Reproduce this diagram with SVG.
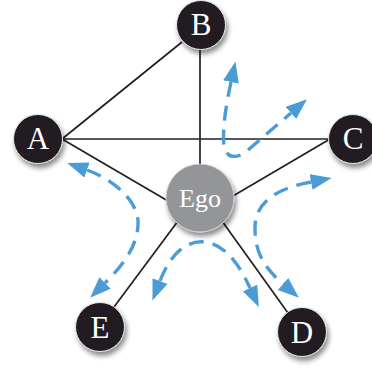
<svg xmlns="http://www.w3.org/2000/svg" width="372" height="369" viewBox="0 0 372 369">
<style>
.edge{stroke:#231f20;stroke-width:1.7;fill:none}
.flow{stroke:#4b9cd6;stroke-width:3.4;fill:none;stroke-dasharray:15 9;marker-start:url(#ah);marker-end:url(#ah)}
.node{fill:#231f20;stroke:#e6e6e6;stroke-width:1;filter:url(#sh)}
.ego{fill:#939598;stroke:#d0d1d3;stroke-width:1;filter:url(#sh)}
.lbl{font-family:"Liberation Serif","Times New Roman",serif;fill:#ffffff;text-anchor:middle;font-size:31px}
.elbl{font-size:26px}
</style>
<defs>
<filter id="sh" x="-30%" y="-30%" width="170%" height="170%">
<feDropShadow dx="2" dy="4" stdDeviation="2.5" flood-color="#000" flood-opacity="0.45"/>
</filter>
<marker id="ah" markerUnits="userSpaceOnUse" markerWidth="23" markerHeight="18" refX="0" refY="8" orient="auto-start-reverse">
<path d="M0,0 L21,8 L0,16 z" fill="#4b9cd6"/>
</marker>
</defs>
<g id="connectors">
<line class="edge" x1="62" y1="139" x2="182" y2="42"/>
<line class="edge" x1="62" y1="139" x2="330" y2="139"/>
<line class="edge" x1="200" y1="48" x2="200" y2="175"/>
<line class="edge" x1="62" y1="139" x2="168" y2="201"/>
<line class="edge" x1="330" y1="139" x2="233" y2="196"/>
<line class="edge" x1="178" y1="221" x2="114" y2="307"/>
<line class="edge" x1="222" y1="221" x2="288" y2="313"/>
<path class="flow" d="M231 82 C226 105,222 130,224 146 C226 160,240 158,248 150 L291 113"/>
<path class="flow" d="M87 170 C110 178,140 200,138 225 C137 250,118 270,105 283"/>
<path class="flow" d="M160 281 C170 255,185 240,205 242 C225 245,238 262,250 288"/>
<path class="flow" d="M311 182 C280 188,255 200,255 228 C255 250,262 266,283 284"/>
</g>
<g id="node-ego">
<circle class="ego" cx="200" cy="198" r="34"/>
<text class="lbl elbl" x="200" y="207">Ego</text>
</g>
<g id="node-a">
<circle class="node" cx="38" cy="139" r="24.5"/>
<text class="lbl" x="38" y="148.5">A</text>
</g>
<g id="node-b">
<circle class="node" cx="201" cy="25" r="24.5"/>
<text class="lbl" x="201" y="35">B</text>
</g>
<g id="node-c">
<circle class="node" cx="353" cy="139" r="24.5"/>
<text class="lbl" x="353" y="149">C</text>
</g>
<g id="node-d">
<circle class="node" cx="302" cy="332" r="24.5"/>
<text class="lbl" x="302" y="342.5">D</text>
</g>
<g id="node-e">
<circle class="node" cx="100" cy="327" r="24.5"/>
<text class="lbl" x="100" y="337.5">E</text>
</g>
</svg>
